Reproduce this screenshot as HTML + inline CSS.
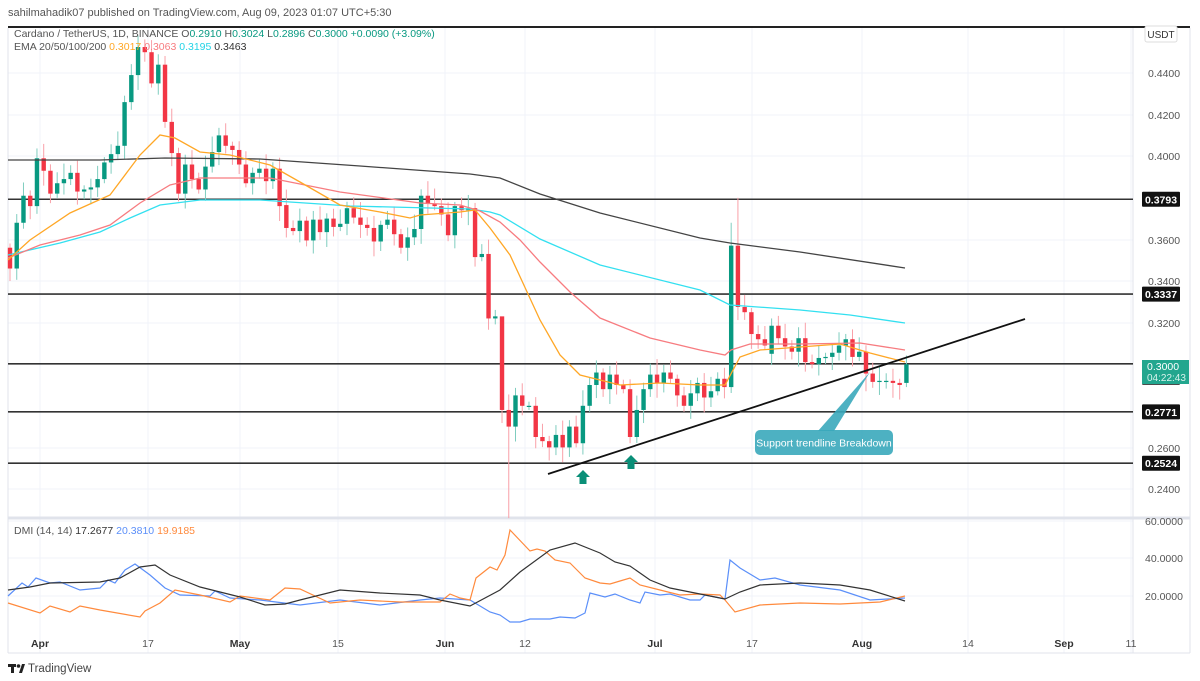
<!DOCTYPE html>
<html><head><meta charset="utf-8"><style>
html,body{margin:0;padding:0;background:#fff;width:1200px;height:681px;overflow:hidden;font-family:"Liberation Sans",sans-serif}
svg text{font-family:"Liberation Sans",sans-serif}
</style></head><body>
<svg id="s" width="1200" height="681" xmlns="http://www.w3.org/2000/svg"></svg>
<script>
const S=document.getElementById('s');let h='';
const Y=p=>73+(0.44-p)*2080;
h+='<rect x="0" y="0" width="1200" height="681" fill="#fff"/>';
[40,148,240,338,445,525,655,752,862,968,1064,1131].forEach(x=>{h+=`<line x1="${x}" y1="28" x2="${x}" y2="653" stroke="#f0f3fa" stroke-width="1"/>`});
[73,115,156,240,281,323,448,489,521,558,596].forEach(y=>{h+=`<line x1="8" y1="${y}" x2="1133" y2="${y}" stroke="#f0f3fa"/>`});
h+='<line x1="8" y1="27" x2="1190" y2="27" stroke="#222" stroke-width="2"/>';
h+='<line x1="1133" y1="28" x2="1133" y2="653" stroke="#e0e3eb"/>';
h+='<line x1="8" y1="518" x2="1190" y2="518" stroke="#e0e3eb" stroke-width="3"/>';
h+='<line x1="8" y1="653" x2="1190" y2="653" stroke="#e0e3eb"/>';
h+='<line x1="8" y1="28" x2="8" y2="653" stroke="#e0e3eb"/>';
h+='<line x1="1190" y1="28" x2="1190" y2="653" stroke="#e0e3eb"/>';
[0.3793,0.3337,0.3002,0.2771,0.2524].forEach(p=>{h+=`<line x1="8" y1="${Y(p)}" x2="1133" y2="${Y(p)}" stroke="#333" stroke-width="1.6"/>`});
const C=[0.346,0.368,0.381,0.376,0.399,0.393,0.382,0.387,0.389,0.392,0.383,0.384,0.385,0.389,0.397,0.401,0.405,0.426,0.439,0.4525,0.45,0.435,0.444,0.4165,0.4015,0.382,0.396,0.389,0.384,0.395,0.402,0.41,0.405,0.403,0.396,0.387,0.392,0.394,0.388,0.394,
0.376,0.3655,0.364,0.369,0.3595,0.3695,0.3635,0.370,0.366,0.3675,0.375,0.3705,0.367,0.3655,0.359,0.367,0.3695,0.3625,0.356,0.361,0.365,0.381,0.377,0.376,0.372,0.362,0.376,0.374,0.375,0.3515,0.353,0.322,0.323,
0.278,0.27,0.285,0.28,0.28,0.265,0.263,0.26,0.266,0.26,0.27,0.262,0.28,0.29,0.296,0.288,0.295,0.29,0.288,0.265,0.278,0.288,0.295,0.291,0.296,0.293,0.285,0.28,0.286,0.291,
0.284,0.287,0.293,0.289,0.357,0.3275,0.325,0.3145,0.312,0.309,0.3185,0.3125,0.3085,0.306,0.3125,0.301,0.300,0.303,0.3035,0.3055,0.309,0.312,0.3035,0.306,0.2955,0.2915,0.292,0.292,0.291,0.290,0.300];
const OV={0:0.356,113:0.305,133:0.291,41:0.3765};
const HI={107:0.368,108:0.38,19:0.458,22:0.449,113:0.322,62:0.388,73:0.32};
const LO={74:0.226,0:0.34,92:0.262,127:0.287,132:0.283};
let prev=C[0];
for(let i=0;i<C.length;i++){
 const o=OV[i]!==undefined?OV[i]:prev,c=C[i];prev=c;
 const x=10+i*6.74;const up=c>=o;const col=up?'#089981':'#f23645';
 const r=((i*37)%11)/11;
 const hi=HI[i]!==undefined?HI[i]:Math.max(o,c)+0.002+r*0.006;
 const lo=LO[i]!==undefined?LO[i]:Math.min(o,c)-0.002-((i*53)%7)/7*0.006;
 const y1=Y(Math.max(o,c)),y2=Y(Math.min(o,c));
 h+=`<line x1="${x}" y1="${Y(hi)}" x2="${x}" y2="${Y(lo)}" stroke="${up?'#7fcdbf':'#f9a0a8'}" stroke-width="1"/>`;
 h+=`<rect x="${x-2.2}" y="${y1}" width="4.4" height="${Math.max(1.2,y2-y1)}" fill="${col}"/>`;
}
function pl(pts,col,w){return `<polyline fill="none" stroke="${col}" stroke-width="${w}" points="${pts.map(p=>p.join(',')).join(' ')}"/>`}
h+=pl([[8,160],[100,160],[165,158],[260,159],[360,166],[470,174],[500,178],[540,194],[600,213],[700,238],[730,243],[800,252],[905,268]],'#444',1.3);
h+=pl([[8,255],[60,243],[100,232],[130,218],[160,205],[200,200],[260,200],[350,206],[470,209],[490,212],[500,215],[540,239],[600,265],[700,290],[730,305],[800,310],[850,315],[905,323]],'#33e0f0',1.3);
h+=pl([[8,258],[40,245],[80,235],[110,225],[140,203],[170,185],[200,178],[240,178],[270,178],[340,192],[420,203],[460,205],[480,211],[500,222],[520,240],[540,262],[570,292],[600,318],[650,338],[700,350],[725,355],[731,350],[750,344],[800,344],[860,343],[905,350]],'#f77c80',1.3);
h+=pl([[8,260],[30,240],[70,213],[110,195],[140,155],[160,135],[175,138],[200,152],[230,155],[270,165],[300,182],[340,205],[380,212],[410,218],[420,215],[460,212],[475,210],[490,228],[510,255],[540,320],[560,355],[580,375],[620,385],[660,383],[700,385],[725,385],[740,357],[760,350],[800,347],[840,344],[870,353],[905,362]],'#ffa726',1.3);
h+='<line x1="548" y1="474" x2="1025" y2="319" stroke="#111" stroke-width="1.8"/>';
h+='<polygon points="818,431 834,431 870,372" fill="#3aa9bb" opacity="0.9"/>';
h+='<rect x="755" y="430" width="138" height="25" rx="5" fill="#3aa9bb" opacity="0.9"/>';
h+='<text x="824" y="446.5" font-size="10.5" fill="#fff" text-anchor="middle">Support trendline Breakdown</text>';
function arr(x,y){return `<polygon points="${x},${y} ${x+7},${y+7} ${x+3.5},${y+7} ${x+3.5},${y+14} ${x-3.5},${y+14} ${x-3.5},${y+7} ${x-7},${y+7}" fill="#0a8f78"/>`}
h+=arr(583,470)+arr(631,455);
h+=pl([[8,596],[22,583],[28,587],[36,578],[50,583],[60,582],[80,590],[100,588],[108,580],[115,583],[125,570],[135,564],[150,575],[165,588],[180,595],[210,596],[215,591],[230,598],[260,600],[300,605],[340,600],[380,605],[420,600],[440,598],[470,600],[490,612],[500,615],[510,622],[520,622],[530,619],[550,619],[560,617],[575,618],[585,613],[590,593],[605,597],[615,594],[630,600],[640,603],[645,592],[660,595],[670,594],[690,600],[700,600],[705,595],[725,599],[730,560],[740,568],[760,580],[775,578],[800,585],[840,590],[870,600],[905,598]],'#5b8ff9',1.2);
h+=pl([[8,603],[40,613],[50,606],[70,612],[80,606],[100,610],[140,617],[145,611],[160,603],[175,590],[200,595],[230,602],[240,596],[270,600],[285,588],[300,589],[330,603],[360,600],[400,602],[440,602],[450,594],[460,598],[470,600],[476,578],[490,567],[497,570],[505,555],[510,530],[530,551],[537,549],[545,551],[555,560],[570,563],[585,578],[600,583],[610,584],[620,581],[630,578],[640,585],[660,590],[680,595],[700,594],[720,595],[725,600],[735,612],[760,605],[800,603],[840,604],[880,602],[905,596]],'#ff8a3d',1.2);
h+=pl([[8,590],[30,587],[50,583],[100,582],[120,578],[140,567],[155,565],[170,575],[200,587],[240,597],[265,605],[285,604],[300,600],[340,590],[380,593],[420,595],[440,600],[470,606],[500,590],[520,572],[550,550],[575,543],[600,553],[615,562],[630,566],[650,580],[670,588],[690,592],[720,598],[725,599],[740,592],[760,585],[800,583],[840,585],[870,590],[905,601]],'#333',1.2);
[['0.4400',73],['0.4200',115],['0.4000',156],['0.3600',240],['0.3400',281],['0.3200',323],['0.2600',448],['0.2400',489]].forEach(a=>{h+=`<text x="1148" y="${a[1]+4}" font-size="10.5" fill="#555">${a[0]}</text>`});
[['60.0000',521],['40.0000',558],['20.0000',596]].forEach(a=>{h+=`<text x="1145" y="${a[1]+4}" font-size="10.5" fill="#555">${a[0]}</text>`});
[['0.3793',0.3793],['0.3337',0.3337],['0.3002',0.3002-0.0065],['0.2771',0.2771],['0.2524',0.2524]].forEach(a=>{const y=Y(a[1]);h+=`<rect x="1142" y="${y-7.5}" width="38" height="15" fill="#111" rx="1"/><text x="1161" y="${y+4}" font-size="10.5" fill="#fff" text-anchor="middle" font-weight="bold">${a[0]}</text>`});
h+='<rect x="1142" y="360" width="47" height="24" fill="#22a68e"/><text x="1147" y="370" font-size="10.5" fill="#fff">0.3000</text><text x="1147" y="381" font-size="10" fill="#d8f2ec">04:22:43</text>';
h+='<rect x="1145" y="26" width="32" height="16" fill="#fff" stroke="#ddd" rx="2"/><text x="1161" y="38" font-size="10" fill="#333" text-anchor="middle">USDT</text>';
[['Apr',40,1],['17',148],['May',240,1],['15',338],['Jun',445,1],['12',525],['Jul',655,1],['17',752],['Aug',862,1],['14',968],['Sep',1064,1],['11',1131]].forEach(a=>{h+=`<text x="${a[1]}" y="647" font-size="10.5" fill="${a[2]?'#333':'#555'}" ${a[2]?'font-weight="bold"':''} text-anchor="middle">${a[0]}</text>`});
h+='<text x="8" y="16" font-size="11" fill="#555">sahilmahadik07 published on TradingView.com, Aug 09, 2023 01:07 UTC+5:30</text>';
h+='<text x="14" y="37" font-size="10.5" fill="#555">Cardano / TetherUS, 1D, BINANCE  O<tspan fill="#089981">0.2910</tspan>  H<tspan fill="#089981">0.3024</tspan>  L<tspan fill="#089981">0.2896</tspan>  C<tspan fill="#089981">0.3000  +0.0090 (+3.09%)</tspan></text>';
h+='<text x="14" y="50" font-size="10.5" fill="#555">EMA 20/50/100/200  <tspan fill="#ffa726">0.3017</tspan>  <tspan fill="#f77c80">0.3063</tspan>  <tspan fill="#22d3e6">0.3195</tspan>  <tspan fill="#333">0.3463</tspan></text>';
h+='<text x="14" y="534" font-size="10.5" fill="#555">DMI (14, 14)  <tspan fill="#333">17.2677</tspan>  <tspan fill="#5b8ff9">20.3810</tspan>  <tspan fill="#ff8a3d">19.9185</tspan></text>';
h+='<rect x="8" y="664" width="8" height="3" fill="#222"/><rect x="11" y="664" width="3" height="9" fill="#222"/><circle cx="18.5" cy="666" r="1.8" fill="#222"/><polygon points="19,673 22,664 25,664 22,673" fill="#222"/>';
h+='<text x="28" y="672" font-size="11.5" fill="#444">TradingView</text>';
S.innerHTML=h;
</script>
</body></html>
